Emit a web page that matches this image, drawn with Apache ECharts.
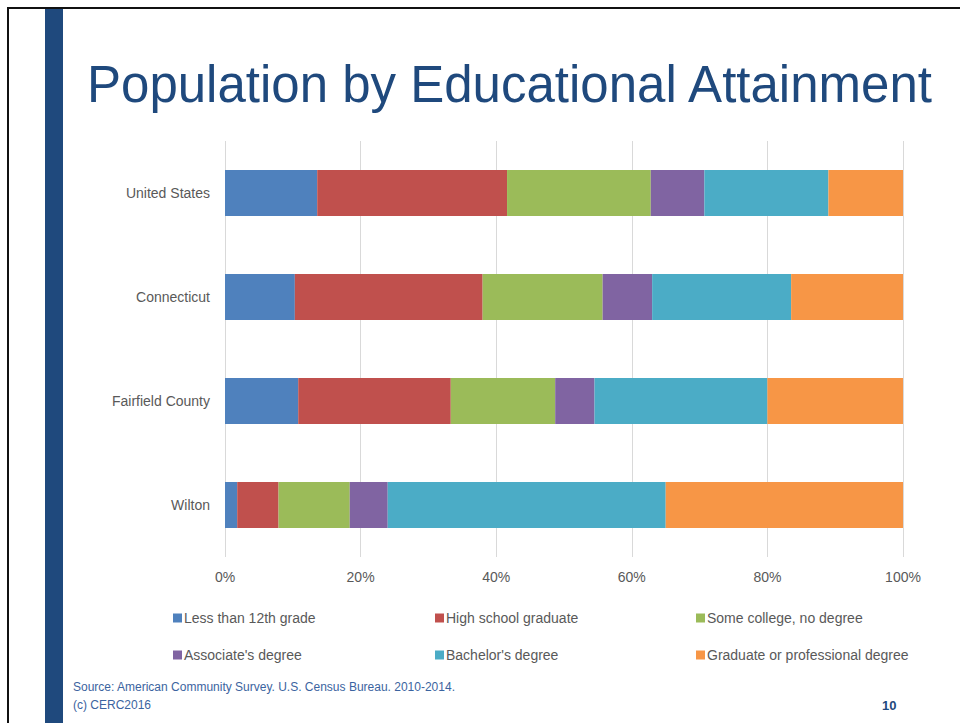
<!DOCTYPE html>
<html>
<head>
<meta charset="utf-8">
<script src="https://cdn.jsdelivr.net/npm/echarts@6/dist/echarts.min.js"></script>
<style>
  html, body { margin: 0; padding: 0; background: #ffffff; }
  #chart { width: 960px; height: 723px; }
</style>
</head>
<body>
<div id="chart"></div>
<script>
// Geographies, top to bottom
const regions = ['United States', 'Connecticut', 'Fairfield County', 'Wilton'];

// Share of population 25+ by highest level of education (percent)
const lessThan12th   = [13.6, 10.3, 10.8, 1.8];
const highSchool     = [28.0, 27.7, 22.5, 6.1];
const someCollege    = [21.2, 17.7, 15.4, 10.5];
const associates     = [7.9, 7.3, 5.8, 5.6];
const bachelors      = [18.3, 20.5, 25.5, 41.0];
const graduate       = [11.0, 16.5, 20.0, 35.0];

const seriesNames = [
  'Less than 12th grade',
  'High school graduate',
  'Some college, no degree',
  "Associate's degree",
  "Bachelor's degree",
  'Graduate or professional degree'
];
const seriesValues = [lessThan12th, highSchool, someCollege, associates, bachelors, graduate];
const seriesColors = ['#4F81BD', '#C0504D', '#9BBB59', '#8064A2', '#4BACC6', '#F79646'];

const xTicks = [0, 20, 40, 60, 80, 100];

const labelFont = "'Liberation Sans', Arial, sans-serif";
const navy = '#1F497D';

const chart = echarts.init(document.getElementById('chart'), null, { renderer: 'svg' });

const legendStyle = {
  orient: 'vertical',
  top: 605,
  icon: 'rect',
  itemWidth: 9,
  itemHeight: 9,
  itemGap: 21,
  textStyle: { color: '#595959', fontSize: 14, fontFamily: labelFont, padding: [0, 0, 0, -3], lineHeight: 16 },
  selectedMode: false
};

chart.setOption({
  animation: false,
  backgroundColor: '#ffffff',
  grid: { left: 225, right: 57, top: 141, bottom: 166, containLabel: false },
  xAxis: {
    type: 'value',
    min: 0,
    max: 100,
    interval: 20,
    axisLine: { show: false },
    axisTick: { show: false },
    splitLine: { show: true, lineStyle: { color: '#d9d9d9', width: 1 } },
    axisLabel: {
      color: '#595959',
      fontSize: 14,
      fontFamily: labelFont,
      margin: 13,
      formatter: v => (xTicks.includes(v) ? v + '%' : '')
    }
  },
  yAxis: {
    type: 'category',
    inverse: true,
    data: regions,
    axisLine: { show: false },
    axisTick: { show: false },
    axisLabel: { color: '#595959', fontSize: 14, fontFamily: labelFont, margin: 15 }
  },
  legend: [
    Object.assign({ left: 168, data: [seriesNames[0], seriesNames[3]] }, legendStyle),
    Object.assign({ left: 430, data: [seriesNames[1], seriesNames[4]] }, legendStyle),
    Object.assign({ left: 691, data: [seriesNames[2], seriesNames[5]] }, legendStyle)
  ],
  series: seriesNames.map((name, i) => ({
    name: name,
    type: 'bar',
    stack: 'total',
    barWidth: 46,
    data: seriesValues[i],
    itemStyle: { color: seriesColors[i] },
    emphasis: { disabled: true }
  })),
  graphic: [
    // slide frame lines
    { type: 'rect', shape: { x: 7, y: 7, width: 953, height: 2 }, style: { fill: '#111111' }, silent: true },
    { type: 'rect', shape: { x: 7, y: 7, width: 2, height: 716 }, style: { fill: '#111111' }, silent: true },
    // accent bar
    { type: 'rect', shape: { x: 45, y: 9, width: 18, height: 714 }, style: { fill: navy }, silent: true },
    // heading
    {
      type: 'text', left: 87, top: 59,
      style: { text: 'Population by Educational Attainment', fill: navy, font: "51px 'Liberation Sans', Arial, sans-serif" }
    },
    // footer
    {
      type: 'text', left: 73, top: 681,
      style: { text: 'Source: American Community Survey. U.S. Census Bureau. 2010-2014.', fill: '#3B64A0', font: "12px 'Liberation Sans', Arial, sans-serif" }
    },
    {
      type: 'text', left: 73, top: 699,
      style: { text: '(c) CERC2016', fill: '#3B64A0', font: "12px 'Liberation Sans', Arial, sans-serif" }
    },
    {
      type: 'text', left: 882, top: 699,
      style: { text: '10', fill: navy, font: "bold 13px 'Liberation Sans', Arial, sans-serif" }
    }
  ]
});
</script>
</body>
</html>
